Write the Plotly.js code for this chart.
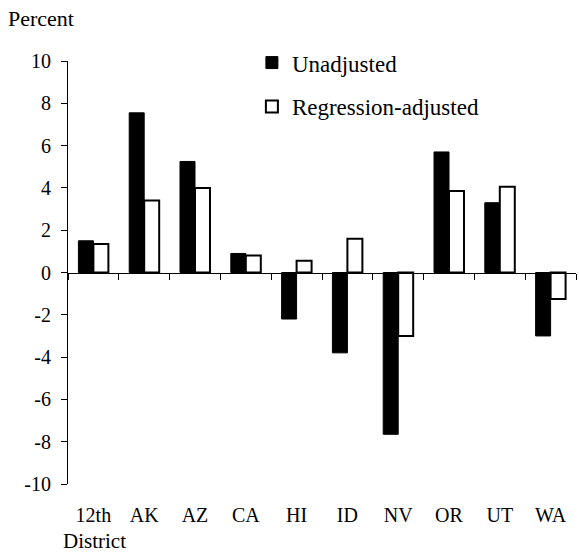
<!DOCTYPE html>
<html>
<head>
<meta charset="utf-8">
<script src="https://cdn.plot.ly/plotly-3.0.1.min.js"></script>
<style>html,body{margin:0;padding:0;background:#fff;}#chart{width:579px;height:553px;}</style>
</head>
<body>
<div id="chart"></div>
<script>
var districts = ["12th", "AK", "AZ", "CA", "HI", "ID", "NV", "OR", "UT", "WA"];
var unadjusted = [1.5, 7.55, 5.25, 0.9, -2.2, -3.8, -7.65, 5.7, 3.3, -3.0];
var regressionAdjusted = [1.35, 3.4, 4.0, 0.8, 0.55, 1.6, -3.0, 3.85, 4.05, -1.25];
var yTicks = [-10, -8, -6, -4, -2, 0, 2, 4, 6, 8, 10];

var serif = '"Liberation Serif", "Times New Roman", Times, serif';

var traces = [
  {
    type: "bar", name: "Unadjusted", x: districts, y: unadjusted,
    legendgroup: "a",
    marker: {color: "#000000", line: {color: "#000000", width: 1}},
    hoverinfo: "x+y"
  },
  {
    type: "bar", name: "Regression-adjusted", x: districts, y: regressionAdjusted,
    legendgroup: "b",
    marker: {color: "#ffffff", line: {color: "#000000", width: 2}},
    hoverinfo: "x+y"
  },
  {
    type: "scatter", mode: "markers", x: districts, y: districts.map(function(){return null;}),
    xaxis: "x2", showlegend: false, hoverinfo: "skip"
  }
];

var layout = {
  width: 579, height: 553,
  margin: {l: 68, r: 3, t: 61, b: 69},
  paper_bgcolor: "#ffffff", plot_bgcolor: "#ffffff",
  font: {family: serif, size: 20, color: "#000000"},
  barmode: "group", bargap: 0.41, bargroupgap: 0,
  showlegend: true,
  legend: {
    x: 0.362, y: 1.047, xanchor: "left", yanchor: "top",
    font: {family: serif, size: 23, color: "#000000"},
    traceorder: "grouped", tracegroupgap: 11,
    bgcolor: "rgba(0,0,0,0)", borderwidth: 0
  },
  xaxis: {
    type: "category", range: [-0.5, 9.5], fixedrange: true,
    showline: false, showgrid: false, zeroline: false,
    ticks: "", ticklabelstandoff: 17,
    tickfont: {family: serif, size: 20, color: "#000000"}
  },
  xaxis2: {
    type: "category", overlaying: "x", anchor: "free", position: 0.5,
    range: [-0.5, 9.5], fixedrange: true,
    showline: true, linecolor: "#000000", linewidth: 1,
    ticks: "outside", tickson: "boundaries", ticklen: 6, tickwidth: 1, tickcolor: "#000000",
    showticklabels: false, showgrid: false, zeroline: false
  },
  yaxis: {
    range: [-10, 10], fixedrange: true,
    tickmode: "array", tickvals: yTicks, ticktext: yTicks.map(String),
    showline: true, linecolor: "#000000", linewidth: 1,
    ticks: "outside", ticklen: 6, tickwidth: 1, tickcolor: "#000000",
    ticklabelstandoff: 6,
    showgrid: false, zeroline: false,
    tickfont: {family: serif, size: 20, color: "#000000"}
  },
  annotations: [
    {text: "Percent", xref: "paper", yref: "paper", x: -0.123, y: 1.1,
     xanchor: "left", yanchor: "middle", showarrow: false,
     font: {family: serif, size: 22, color: "#000000"}},
    {text: "District", xref: "paper", yref: "paper", x: -0.013, y: -0.134,
     xanchor: "left", yanchor: "middle", showarrow: false,
     font: {family: serif, size: 21, color: "#000000"}}
  ]
};

Plotly.newPlot("chart", traces, layout, {displayModeBar: false, staticPlot: true});
</script>
</body>
</html>
